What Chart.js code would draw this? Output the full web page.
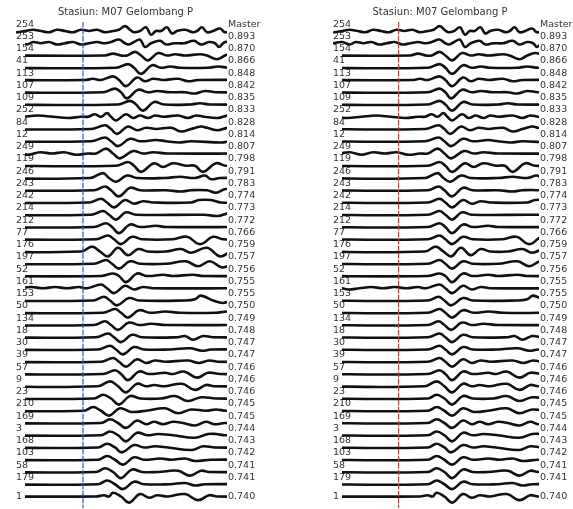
<!DOCTYPE html>
<html>
<head>
<meta charset="utf-8">
<script src="https://cdn.jsdelivr.net/npm/chart.js@4.4.1/dist/chart.umd.min.js"></script>
<style>
  html, body { margin: 0; padding: 0; background: #fff; }
  #wrap { position: relative; width: 573px; height: 509px; }
  canvas { position: absolute; top: 0; }
  #left { left: 0; }
  #right { left: 286px; }
</style>
</head>
<body>
<div id="wrap">
  <canvas id="left" width="286" height="509"></canvas>
  <canvas id="right" width="287" height="509"></canvas>
</div>
<script>
const title = "Stasiun: M07 Gelombang P";

const ids = ["254", "253", "154", "41", "113", "107", "109", "252", "84", "12", "249", "119", "246",
  "243", "242", "214", "212", "77", "176", "197", "52", "161", "153", "50", "134", "18", "30", "39",
  "57", "9", "23", "210", "169", "3", "168", "103", "58", "179", "1"];

const corr = ["Master", "0.893", "0.870", "0.866", "0.848", "0.842", "0.835", "0.833", "0.828",
  "0.814", "0.807", "0.798", "0.791", "0.783", "0.774", "0.773", "0.772", "0.766", "0.759", "0.757",
  "0.756", "0.755", "0.755", "0.750", "0.749", "0.748", "0.747", "0.747", "0.746", "0.746", "0.746",
  "0.745", "0.745", "0.744", "0.743", "0.742", "0.741", "0.741", "0.740"];

// pick time (dashed line), same in both panels
const pickTime = 58;

// time shift of each trace in the left (unaligned) panel
const lagLeft = [0, -6, 10, 3, -12, -10, 5, -22, -19, -19, -17, 3, -20, -19, -24, -22, -19, -17, -29,
  -19, -12, -24, -20, -10, -19, -17, -15, -12, -10, -12, -19, -29, -12, -12, -15, -15, -17, -15, -9];

// aligned waveforms: [time, amplitude], P dip near t = 113
const waves = [
  [[-40,0],[-28,1],[-18,0],[-8,-1],[0,0],[8,1],[16,0],[24,-1],[32,1],[40,0],[48,-1],[56,1],[64,0],[72,1],[80,-1],[88,0],[94,1],[100,4],[105,1],[109,-1],[115,0],[121,3],[126,-3],[131,0],[136,0],[142,3],[147,-2],[152,0],[160,1],[168,-1],[172,0],[177,3],[182,-1],[188,0],[195,2],[200,-1],[210,0],[240,0]], // 254
  [[-40,0],[-30,-1],[-20,1],[-10,0],[0,1],[8,-1],[14,1],[22,0],[30,1],[38,-1],[46,0],[54,1],[62,-1],[70,0],[78,1],[86,0],[92,1],[100,3],[106,0],[110,-1],[115,1],[121,3],[126,-3],[132,0],[141,2],[147,-1],[155,0],[165,0],[175,2],[182,-1],[190,1],[196,0],[200,-3],[206,1],[215,0],[225,1],[240,0]], // 253
  [[-40,0],[70,0],[78,1.5],[86,0],[92,0],[100,3],[106,0],[113,-4],[123,2],[132,0],[140,1],[150,0],[165,1],[172,0],[182,-3],[190,0],[198,2],[205,1],[215,0],[240,0]], // 154
  [[-40,0],[88,0],[100,3],[106,0],[113,-5],[124,2],[133,0],[142,1],[152,0],[180,0],[190,1],[201,0],[240,0]], // 41
  [[-40,0],[72,0],[80,1],[88,0],[100,3],[106,0],[113,-5],[124,2],[132,-1],[140,1],[150,0],[165,1],[175,-1],[185,0],[240,0]], // 113
  [[-40,0],[88,0],[100,3],[106,0],[112,-5],[123,2],[133,0],[142,1],[155,0],[170,0],[180,-1],[190,1],[201,0],[240,0]], // 107
  [[-40,0],[88,0],[100,3],[106,0],[113,-5],[124,2],[134,0],[160,0],[170,1],[180,0],[240,0]], // 109
  [[-40,0],[-25,1],[-10,0],[5,-1],[20,0],[35,1],[50,0],[65,-1],[78,0],[85,0],[92,2],[98,0],[104,3],[108,0],[113,-3],[123,2],[130,-1],[137,1],[145,-1],[152,1],[160,0],[175,1],[185,-1],[193,1],[201,0],[215,-1],[225,1],[240,0]], // 252
  [[-40,0],[85,0],[99,3],[105,0],[111,-4],[122,2],[131,-1],[140,1],[150,0],[165,1],[175,-2],[185,0],[195,2],[201,1],[212,-1],[222,1],[240,0]], // 84
  [[-40,0],[85,0],[99,3],[105,0],[112,-4],[124,2],[134,0],[150,1],[160,0],[173,-1],[185,0],[215,-1],[225,0],[240,0]], // 12
  [[-40,0],[-28,-1],[-16,1],[-4,0],[8,1],[20,-1],[32,1],[44,0],[56,1],[68,-1],[80,0],[88,0],[98,4],[105,0],[112,-4],[125,2],[135,0],[145,1],[160,0],[240,0]], // 249
  [[-40,0],[88,0],[100,3],[106,0],[113,-5],[126,2],[135,-1],[145,2],[158,0],[167,0],[175,-5],[188,2],[198,0],[240,0]], // 119
  [[-40,0],[85,0],[98,4],[104,0],[111,-3],[122,2],[132,0],[160,0],[175,1],[190,0],[200,2],[206,-1],[215,0],[240,0]], // 246
  [[-40,0],[88,0],[99,3],[105,0],[113,-5],[124,2],[134,0],[160,0],[175,-1],[185,0],[201,0],[210,-2],[220,1],[240,0]], // 243
  [[-40,0],[88,0],[100,3],[106,0],[113,-4],[124,2],[133,-1],[142,1],[152,0],[190,0],[198,2],[210,2],[220,0],[240,0]], // 242
  [[-40,0],[88,0],[100,3],[106,0],[113,-4],[123,2],[133,0],[201,0],[215,-1],[225,1],[240,0]], // 214
  [[-40,0],[88,0],[100,3],[106,0],[113,-5],[124,2],[134,0],[150,1],[160,0],[240,0]], // 212
  [[-40,0],[88,0],[100,3],[106,0],[113,-4],[124,2],[134,0],[165,0],[179,2],[192,-4],[205,2],[215,0],[240,0]], // 77
  [[-40,0],[85,0],[96,4],[104,0],[112,-4],[122,3],[132,-3],[142,2],[152,0],[170,0],[185,2],[195,-1],[211,3],[224,-4],[235,0],[240,0]], // 176
  [[-40,0],[88,0],[100,3],[106,0],[113,-4],[124,2],[134,0],[160,0],[180,2],[192,-2],[204,2],[216,-3],[228,0],[240,0]], // 197
  [[-40,0],[88,0],[100,2],[106,0],[113,-5],[124,2],[134,0],[150,1],[160,0],[180,1],[190,0],[240,0]], // 52
  [[-40,0],[-30,1],[-18,0],[-6,1],[6,-1],[18,0],[30,1],[42,0],[54,1],[66,0],[78,1],[86,0],[100,3],[106,0],[113,-4],[124,2],[133,-1],[142,1],[152,0],[240,0]], // 161
  [[-40,0],[88,0],[99,3],[105,0],[112,-4],[124,2],[134,0],[180,0],[190,1],[196,4],[208,0],[218,-2],[228,0],[240,0]], // 153
  [[-40,0],[88,0],[100,3],[106,0],[113,-4],[124,2],[135,0],[150,1],[165,0],[201,0],[212,1],[240,0]], // 50
  [[-40,0],[88,0],[99,3],[105,0],[112,-4],[123,2],[133,0],[145,1],[160,0],[240,0]], // 134
  [[-40,0],[88,0],[100,3],[106,0],[113,-4],[124,2],[134,0],[170,0],[177,1],[185,-2],[195,1],[205,0],[240,0]], // 18
  [[-40,0],[88,0],[100,3],[106,0],[113,-4],[124,2],[134,0],[160,0],[180,1],[192,-1],[201,0],[240,0]], // 30
  [[-40,0],[88,0],[100,3],[106,0],[113,-4],[124,2],[133,-1],[142,1],[152,0],[175,1],[186,-1],[196,1],[205,0],[240,0]], // 39
  [[-40,0],[88,0],[100,3],[106,0],[113,-5],[124,2],[134,0],[150,1],[158,0],[169,2],[182,-3],[193,1],[205,0],[240,0]], // 57
  [[-40,0],[85,0],[97,4],[105,0],[113,-5],[124,2],[133,0],[141,1],[152,0],[169,2],[182,-3],[193,1],[201,0],[240,0]], // 9
  [[-40,0],[88,0],[97,3],[105,0],[113,-5],[124,2],[134,0],[155,0],[169,2],[182,-2],[195,1],[210,0],[240,0]], // 23
  [[-40,0],[88,0],[97,3],[105,0],[113,-4],[124,2],[135,-1],[150,0],[169,2],[182,-2],[195,1],[210,0],[220,1],[230,0],[240,0]], // 210
  [[-40,0],[88,0],[97,3],[105,0],[113,-4],[124,2],[133,-1],[141,1],[150,-1],[160,1],[170,0],[182,-2],[193,1],[201,-1],[212,0],[240,0]], // 169
  [[-40,0],[88,0],[97,3],[105,0],[113,-5],[124,2],[134,0],[145,1],[160,0],[182,-2],[195,1],[203,1],[212,0],[240,0]], // 3
  [[-40,0],[88,0],[97,3],[105,0],[112,-4],[124,2],[134,0],[145,1],[158,0],[182,-2],[193,1],[205,0],[240,0]], // 168
  [[-40,0],[88,0],[97,3],[105,0],[113,-4],[124,2],[134,0],[150,1],[162,0],[175,1],[185,-1],[201,0],[240,0]], // 103
  [[-40,0],[88,0],[97,3],[105,0],[113,-5],[124,2],[134,0],[150,0],[170,1],[182,-3],[193,1],[201,0],[240,0]], // 58
  [[-40,0],[88,0],[97,3],[105,0],[113,-4],[124,2],[134,0],[160,0],[175,1],[185,-1],[195,0],[240,0]], // 179
  [[-40,0],[80,0],[88,1],[93,0],[97,3],[105,0],[113,-5],[124,2],[133,-1],[141,1],[152,0],[169,2],[182,-3],[193,1],[201,0],[240,0]], // 1
];

const gain = 0.1;
const yTop = 0.735;
const yBottom = -38.94;
const tMax = 201;

Chart.defaults.font.family = "'DejaVu Sans', sans-serif";
Chart.defaults.color = "#333";

// label sits a little above its trace, except the last one
const rowTicks = ids.map((_, i) => (i < ids.length - 1 ? -i + 0.55 : -i));

function makePanel(canvasId, lags, pickColor, padLeft, rightWidth, earlyRows) {
  const datasets = [{
    data: [{ x: pickTime, y: yTop }, { x: pickTime, y: yBottom }],
    borderColor: pickColor,
    borderWidth: 1.2,
    borderDash: [5, 2],
    tension: 0,
  }];

  ids.forEach((id, i) => {
    datasets.push({
      label: id,
      data: waves[i].map(([t, a]) => ({ x: t + lags[i], y: -i + a * gain })),
      borderColor: "#111",
      borderWidth: 2.6,
      tension: 0.4,
      clip: { left: earlyRows.includes(i) ? 9 : 0, right: 1, top: false, bottom: false },
    });
  });

  // mirrored ticks are not clipped to the axis box, so the labels can run over the traces
  const yAxis = (position, labels, width, mirror, pad) => ({
    type: "linear",
    position: position,
    min: yBottom,
    max: yTop,
    grid: { display: false, drawTicks: false },
    border: { display: false },
    afterBuildTicks: (s) => {
      s.ticks = rowTicks.map((v) => ({ value: v }));
    },
    afterFit: (s) => {
      s.width = width;
      s.paddingTop = 0;
      s.paddingBottom = 0;
    },
    ticks: {
      autoSkip: false,
      mirror: mirror,
      crossAlign: "near",
      padding: pad,
      font: { size: 9.5 },
      color: "#333",
      callback: (v, i) => labels[i],
    },
  });

  return new Chart(document.getElementById(canvasId), {
    type: "line",
    data: { datasets: datasets },
    options: {
      responsive: false,
      animation: false,
      events: [],
      layout: { autoPadding: false, padding: { left: padLeft, right: 0, top: 0, bottom: 1 } },
      elements: {
        point: { radius: 0 },
        line: { borderCapStyle: "round", borderJoinStyle: "round" },
      },
      plugins: {
        legend: { display: false },
        tooltip: { enabled: false },
        title: {
          display: true,
          text: title,
          fullSize: false,
          color: "#333",
          font: { size: 10, weight: "normal" },
          padding: { top: 6, bottom: 4 },
        },
      },
      scales: {
        x: { type: "linear", display: false, min: 0, max: tMax },
        y: yAxis("left", ids, 9, true, -9),
        yR: yAxis("right", corr, rightWidth, false, 2),
      },
    },
  });
}

makePanel("left", lagLeft, "#2f4fe6", 16, 60, [0]);
makePanel("right", ids.map(() => 0), "#e8312b", 47, 35, [0, 1]);
</script>
</body>
</html>
